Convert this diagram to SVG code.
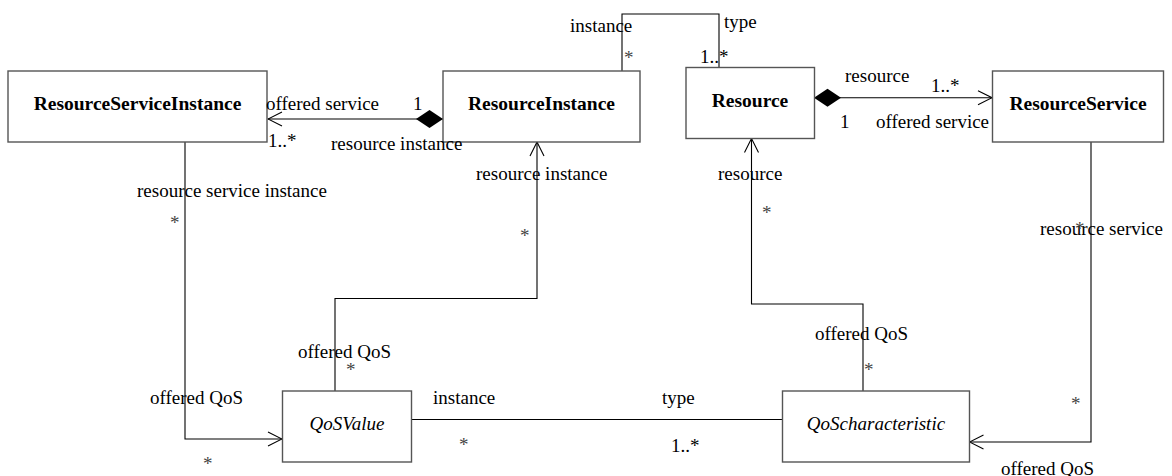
<svg xmlns="http://www.w3.org/2000/svg" width="1172" height="476" viewBox="0 0 1172 476">
<style>
.box{fill:#fff;stroke:#555;stroke-width:1.4}
.t{font-family:"Liberation Serif","Times New Roman",serif;font-size:19px;fill:#000}
.b{font-weight:bold;font-size:19.5px;text-anchor:middle}
.i{font-style:italic;text-anchor:middle}
.ast{fill:#444}
.c{fill:none;stroke:#000;stroke-width:1.1}
</style>
<defs>
<marker id="arr" markerUnits="userSpaceOnUse" viewBox="0 0 16 16" refX="15" refY="8" markerWidth="16" markerHeight="16" orient="auto">
<path d="M1,1 L15,8 L1,15" fill="none" stroke="#000" stroke-width="1.1"/>
</marker>
<marker id="dia" markerUnits="userSpaceOnUse" viewBox="0 0 28 20" refX="0" refY="10" markerWidth="28" markerHeight="20" orient="auto">
<path d="M0,10 L13.5,1 L27,10 L13.5,19 Z" fill="#000"/>
</marker>
</defs>

<g id="connectors">
<path class="c" d="M443,119 L268,119" marker-start="url(#dia)" marker-end="url(#arr)"/>
<path class="c" d="M622,71 L622,14 L719,14 L719,67"/>
<path class="c" d="M814,97.7 L992,97.7" marker-start="url(#dia)" marker-end="url(#arr)"/>
<path class="c" d="M185,142 L185,439 L282,439" marker-end="url(#arr)"/>
<path class="c" d="M335,391 L335,298.5 L537,298.5 L537,142" marker-end="url(#arr)"/>
<path class="c" d="M863,391 L863,304 L751.5,304 L751.5,138.5" marker-end="url(#arr)"/>
<path class="c" d="M1091,142 L1091,442 L969.5,442" marker-end="url(#arr)"/>
<path class="c" d="M412,419.5 L782,419.5"/>
</g>

<g id="ResourceServiceInstance">
<rect class="box" x="8" y="71" width="259" height="71"/>
<text class="t b" x="137.5" y="110">ResourceServiceInstance</text>
</g>
<g id="ResourceInstance">
<rect class="box" x="443" y="71" width="197" height="71"/>
<text class="t b" x="541.5" y="110">ResourceInstance</text>
</g>
<g id="Resource">
<rect class="box" x="686" y="67.5" width="128.5" height="71"/>
<text class="t b" x="750" y="107">Resource</text>
</g>
<g id="ResourceService">
<rect class="box" x="992.5" y="71" width="171" height="71"/>
<text class="t b" x="1078" y="110">ResourceService</text>
</g>
<g id="QoSValue">
<rect class="box" x="282.5" y="391" width="129" height="71"/>
<text class="t i" x="347" y="430">QoSValue</text>
</g>
<g id="QoScharacteristic">
<rect class="box" x="782.5" y="391" width="187" height="71"/>
<text class="t i" x="876" y="430">QoScharacteristic</text>
</g>

<g id="labels">
<text class="t" x="266" y="110">offered service</text>
<text class="t" x="413" y="110">1</text>
<text class="t" x="268" y="147">1..*</text>
<text class="t" x="331" y="150">resource instance</text>
<text class="t" x="570" y="32">instance</text>
<text class="t" x="724" y="28">type</text>
<text class="t ast" x="624" y="64">*</text>
<text class="t" x="700" y="63">1..*</text>
<text class="t" x="845" y="82">resource</text>
<text class="t" x="931" y="92">1..*</text>
<text class="t" x="840" y="128">1</text>
<text class="t" x="876" y="128">offered service</text>
<text class="t" x="137" y="197">resource service instance</text>
<text class="t ast" x="170" y="229">*</text>
<text class="t" x="476" y="180">resource instance</text>
<text class="t ast" x="520" y="242">*</text>
<text class="t" x="718" y="180">resource</text>
<text class="t ast" x="762" y="219">*</text>
<text class="t" x="1040" y="235">resource service</text>
<text class="t ast" x="1075" y="235">*</text>
<text class="t ast" x="1071" y="410">*</text>
<text class="t" x="1001" y="475">offered QoS</text>
<text class="t" x="298" y="358">offered QoS</text>
<text class="t ast" x="346" y="376">*</text>
<text class="t" x="150" y="404">offered QoS</text>
<text class="t ast" x="203" y="470">*</text>
<text class="t" x="433" y="404">instance</text>
<text class="t" x="662" y="404">type</text>
<text class="t ast" x="459" y="451">*</text>
<text class="t" x="671" y="452">1..*</text>
<text class="t" x="815" y="340">offered QoS</text>
<text class="t ast" x="864" y="376">*</text>
</g>
</svg>
